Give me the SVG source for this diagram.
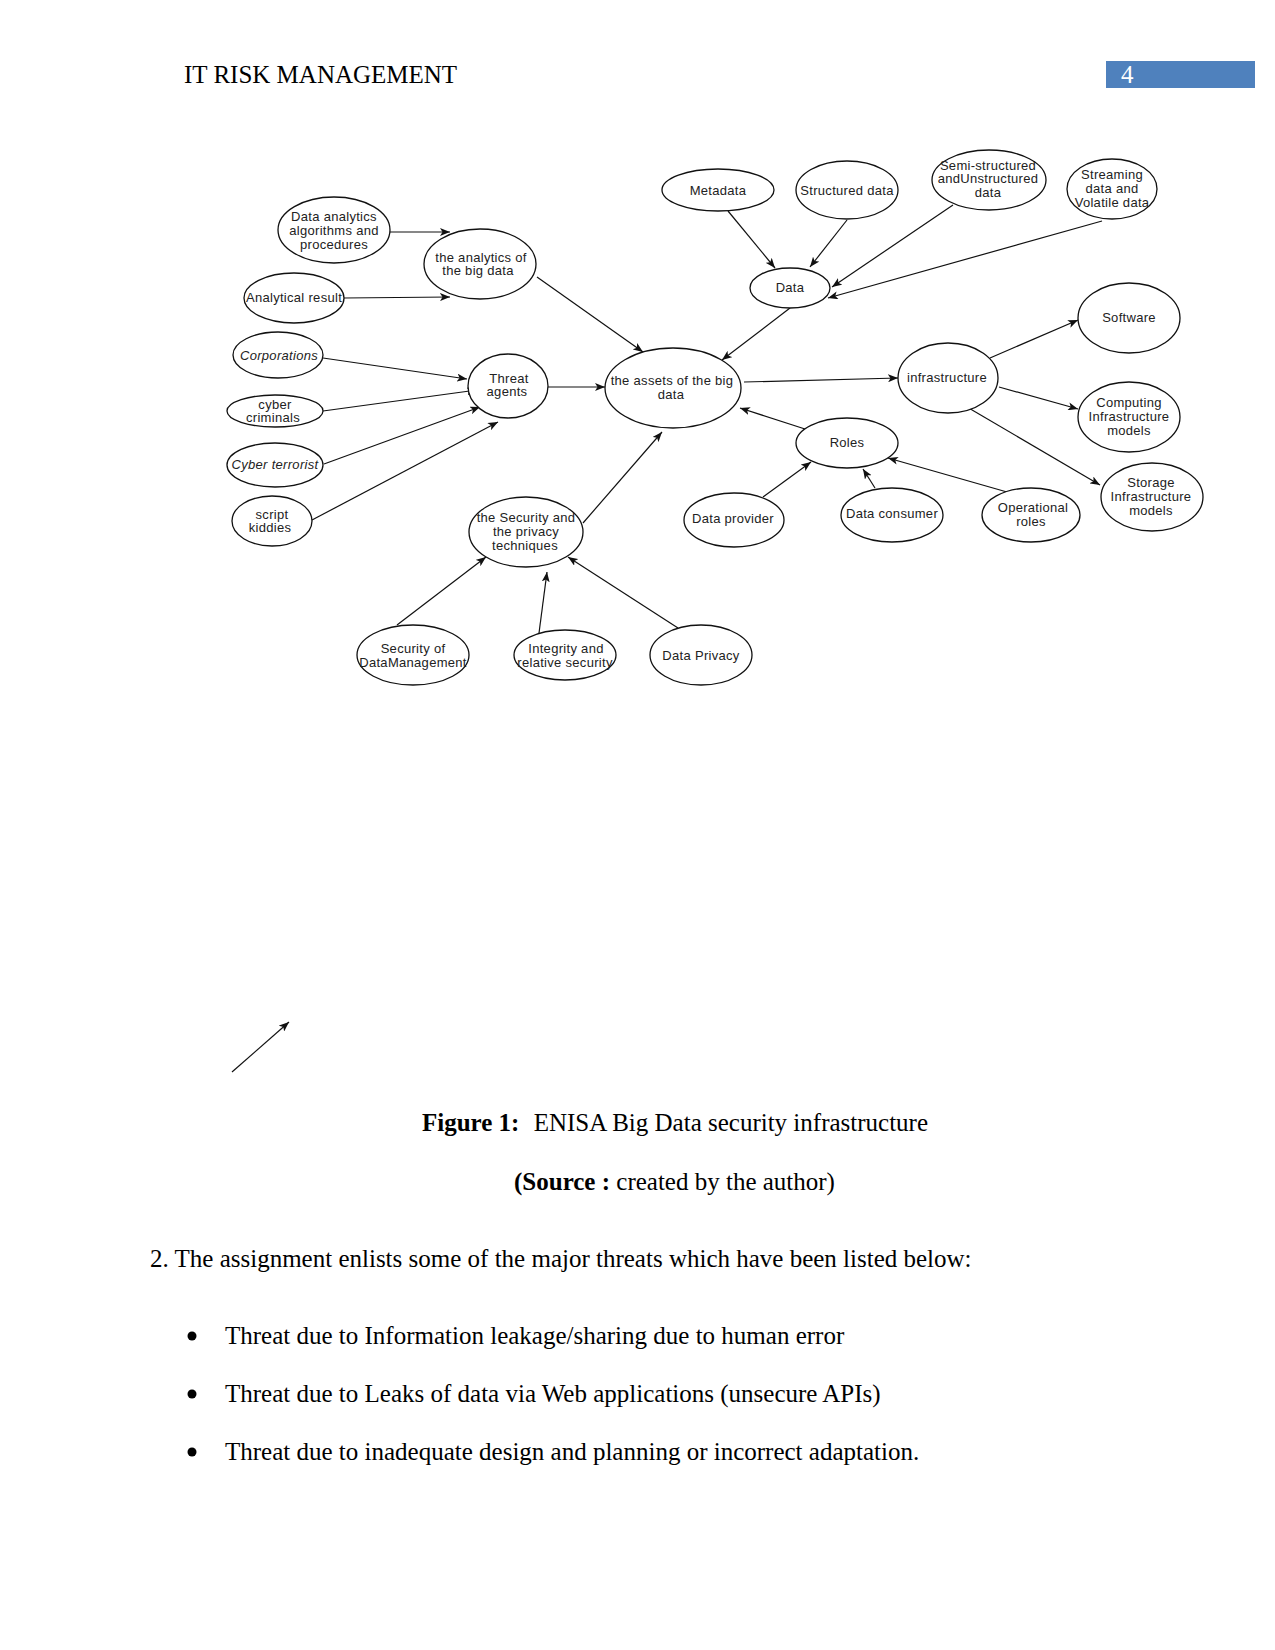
<svg xmlns="http://www.w3.org/2000/svg" width="1275" height="1650" viewBox="0 0 1275 1650">
<defs>
<marker id="ah" viewBox="0 0 10 8" refX="10" refY="4" markerWidth="10" markerHeight="8" markerUnits="userSpaceOnUse" orient="auto">
<path d="M0,0 L10,4 L0,8 L2.5,4 z" fill="#111"/>
</marker>
<style>
.n ellipse{fill:#fff;stroke:#111;stroke-width:1.3}
.n text{font-family:"Liberation Sans",Arial,sans-serif;font-size:13px;letter-spacing:0.3px;fill:#222;text-anchor:middle}
.it text{font-style:italic}
#edges line{stroke:#111;stroke-width:1.2;marker-end:url(#ah)}
.doc{font-family:"Liberation Serif","Times New Roman",serif;font-size:25px;fill:#000}
</style>
</defs>
<rect width="1275" height="1650" fill="#fff"/>

<text class="doc" x="184" y="83">IT RISK MANAGEMENT</text>
<rect x="1106" y="61" width="149" height="27" fill="#4F81BD"/>
<text class="doc" x="1121" y="83" style="fill:#fff">4</text>

<g id="edges">
<line x1="390" y1="232" x2="450" y2="232"/>
<line x1="344" y1="298" x2="450" y2="297"/>
<line x1="537" y1="277" x2="643" y2="352"/>
<line x1="323" y1="358" x2="467" y2="379"/>
<line x1="323" y1="411" x2="477" y2="390"/>
<line x1="324" y1="464" x2="480" y2="407"/>
<line x1="312" y1="520" x2="498" y2="422"/>
<line x1="548" y1="387" x2="605" y2="387"/>
<line x1="728" y1="211" x2="775" y2="268"/>
<line x1="847" y1="220" x2="810" y2="267"/>
<line x1="953" y1="205" x2="832" y2="287"/>
<line x1="1102" y1="221" x2="828" y2="298"/>
<line x1="790" y1="308" x2="722" y2="360"/>
<line x1="744" y1="382" x2="898" y2="378"/>
<line x1="990" y1="358" x2="1078" y2="320"/>
<line x1="999" y1="387" x2="1078" y2="409"/>
<line x1="967" y1="407" x2="1100" y2="485"/>
<line x1="805" y1="429" x2="740" y2="408"/>
<line x1="763" y1="497" x2="811" y2="462"/>
<line x1="875" y1="488" x2="863" y2="469"/>
<line x1="1007" y1="492" x2="888" y2="458"/>
<line x1="397" y1="625" x2="486" y2="557"/>
<line x1="539" y1="633" x2="547" y2="572"/>
<line x1="678" y1="628" x2="568" y2="557"/>
<line x1="583" y1="523" x2="662" y2="432"/>
<line x1="232" y1="1072" x2="289" y2="1022"/>
</g>

<g id="n-da" class="n"><ellipse cx="334" cy="230" rx="56" ry="33"/><text x="334" y="221">Data analytics</text><text x="334" y="235">algorithms and</text><text x="334" y="249">procedures</text></g>
<g id="n-an" class="n"><ellipse cx="480" cy="264" rx="56" ry="35"/><text x="481" y="262">the analytics of</text><text x="478" y="275">the big data</text></g>
<g id="n-ar" class="n"><ellipse cx="294" cy="298" rx="50" ry="25"/><text x="294" y="302">Analytical result</text></g>
<g id="n-co" class="n it"><ellipse cx="278" cy="355" rx="45" ry="23"/><text x="279" y="360">Corporations</text></g>
<g id="n-cc" class="n"><ellipse cx="275" cy="411" rx="48" ry="16"/><text x="275" y="409">cyber</text><text x="273" y="422">criminals</text></g>
<g id="n-ct" class="n it"><ellipse cx="275" cy="465" rx="48" ry="22"/><text x="275" y="469">Cyber terrorist</text></g>
<g id="n-sk" class="n"><ellipse cx="272" cy="521" rx="40" ry="25"/><text x="272" y="519">script</text><text x="270" y="532">kiddies</text></g>
<g id="n-ta" class="n"><ellipse cx="508" cy="386" rx="40" ry="32"/><text x="509" y="383">Threat</text><text x="507" y="396">agents</text></g>
<g id="n-sp" class="n"><ellipse cx="526" cy="532" rx="57" ry="35"/><text x="526" y="522">the Security and</text><text x="526" y="536">the privacy</text><text x="525" y="550">techniques</text></g>
<g id="n-sdm" class="n"><ellipse cx="413" cy="655" rx="56" ry="30"/><text x="413" y="653">Security of</text><text x="413" y="667">DataManagement</text></g>
<g id="n-ir" class="n"><ellipse cx="565" cy="655" rx="51" ry="25"/><text x="566" y="653">Integrity and</text><text x="565" y="667">relative security</text></g>
<g id="n-dp" class="n"><ellipse cx="701" cy="655" rx="51" ry="30"/><text x="701" y="660">Data Privacy</text></g>
<g id="n-as" class="n"><ellipse cx="673" cy="388" rx="68" ry="40"/><text x="672" y="385">the assets of the big</text><text x="671" y="399">data</text></g>
<g id="n-md" class="n"><ellipse cx="718" cy="190" rx="56" ry="21"/><text x="718" y="195">Metadata</text></g>
<g id="n-sd" class="n"><ellipse cx="847" cy="190" rx="51" ry="29"/><text x="847" y="195">Structured data</text></g>
<g id="n-ss" class="n"><ellipse cx="989" cy="180" rx="57" ry="30"/><text x="988" y="170">Semi-structured</text><text x="988" y="183">andUnstructured</text><text x="988" y="197">data</text></g>
<g id="n-st" class="n"><ellipse cx="1112" cy="189" rx="45" ry="30"/><text x="1112" y="179">Streaming</text><text x="1112" y="193">data and</text><text x="1112" y="207">Volatile data</text></g>
<g id="n-dt" class="n"><ellipse cx="790" cy="288" rx="40" ry="20"/><text x="790" y="292">Data</text></g>
<g id="n-inf" class="n"><ellipse cx="948" cy="378" rx="50" ry="35"/><text x="947" y="382">infrastructure</text></g>
<g id="n-sw" class="n"><ellipse cx="1129" cy="318" rx="51" ry="35"/><text x="1129" y="322">Software</text></g>
<g id="n-ci" class="n"><ellipse cx="1129" cy="417" rx="51" ry="35"/><text x="1129" y="407">Computing</text><text x="1129" y="421">Infrastructure</text><text x="1129" y="435">models</text></g>
<g id="n-si" class="n"><ellipse cx="1152" cy="497" rx="51" ry="34"/><text x="1151" y="487">Storage</text><text x="1151" y="501">Infrastructure</text><text x="1151" y="515">models</text></g>
<g id="n-ro" class="n"><ellipse cx="847" cy="443" rx="51" ry="25"/><text x="847" y="447">Roles</text></g>
<g id="n-dpr" class="n"><ellipse cx="734" cy="520" rx="50" ry="27"/><text x="733" y="523">Data provider</text></g>
<g id="n-dc" class="n"><ellipse cx="892" cy="515" rx="51" ry="27"/><text x="892" y="518">Data consumer</text></g>
<g id="n-op" class="n"><ellipse cx="1031" cy="515" rx="49" ry="27"/><text x="1033" y="512">Operational</text><text x="1031" y="526">roles</text></g>

<text class="doc" x="422" y="1131"><tspan font-weight="bold">Figure 1:</tspan><tspan dx="8"> ENISA Big Data security infrastructure</tspan></text>
<text class="doc" x="514" y="1190"><tspan font-weight="bold">(Source :</tspan> created by the author)</text>
<text class="doc" x="150" y="1267">2. The assignment enlists some of the major threats which have been listed below:</text>
<circle cx="192" cy="1336" r="4.5" fill="#000"/>
<text class="doc" x="225" y="1344">Threat due to Information leakage/sharing due to human error</text>
<circle cx="192" cy="1394" r="4.5" fill="#000"/>
<text class="doc" x="225" y="1402">Threat due to Leaks of data via Web applications (unsecure APIs)</text>
<circle cx="192" cy="1452" r="4.5" fill="#000"/>
<text class="doc" x="225" y="1460">Threat due to inadequate design and planning or incorrect adaptation.</text>
</svg>
